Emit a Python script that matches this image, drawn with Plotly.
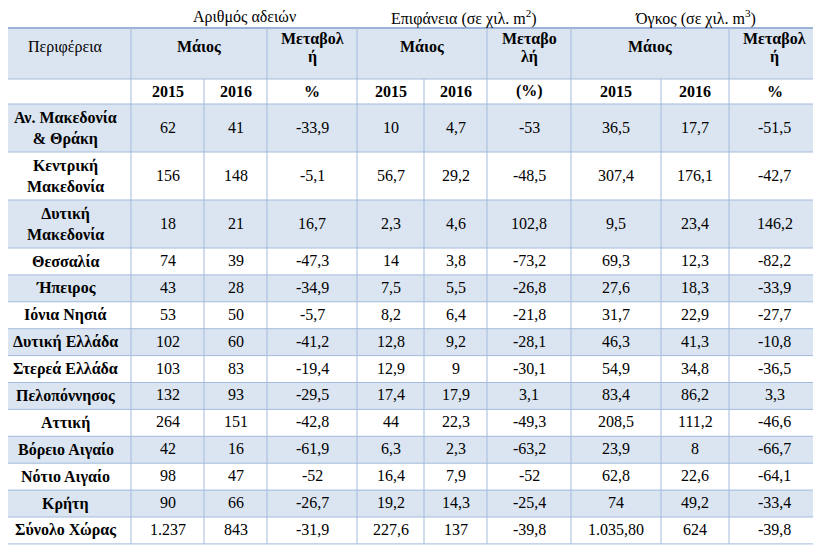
import plotly.graph_objects as go

# ---------------- data ----------------
groups = ["Αριθμός αδειών", "Επιφάνεια (σε χιλ. m<sup>2</sup>)", "Όγκος (σε χιλ. m<sup>3</sup>)"]
period_label = "Μάιος"
change_labels = [["Μεταβολ", "ή"], ["Μεταβο", "λή"], ["Μεταβολ", "ή"]]
years = ["2015", "2016"]
change_units = ["%", "(%)", "%"]

regions = [
    "Αν. Μακεδονία<br>& Θράκη", "Κεντρική<br>Μακεδονία", "Δυτική<br>Μακεδονία",
    "Θεσσαλία", "Ήπειρος", "Ιόνια Νησιά", "Δυτική Ελλάδα", "Στερεά Ελλάδα",
    "Πελοπόννησος", "Αττική", "Βόρειο Αιγαίο", "Νότιο Αιγαίο", "Κρήτη", "Σύνολο Χώρας",
]
permits_2015 = ["62", "156", "18", "74", "43", "53", "102", "103", "132", "264", "42", "98", "90", "1.237"]
permits_2016 = ["41", "148", "21", "39", "28", "50", "60", "83", "93", "151", "16", "47", "66", "843"]
permits_chg = ["-33,9", "-5,1", "16,7", "-47,3", "-34,9", "-5,7", "-41,2", "-19,4", "-29,5", "-42,8", "-61,9", "-52", "-26,7", "-31,9"]
area_2015 = ["10", "56,7", "2,3", "14", "7,5", "8,2", "12,8", "12,9", "17,4", "44", "6,3", "16,4", "19,2", "227,6"]
area_2016 = ["4,7", "29,2", "4,6", "3,8", "5,5", "6,4", "9,2", "9", "17,9", "22,3", "2,3", "7,9", "14,3", "137"]
area_chg = ["-53", "-48,5", "102,8", "-73,2", "-26,8", "-21,8", "-28,1", "-30,1", "3,1", "-49,3", "-63,2", "-52", "-25,4", "-39,8"]
volume_2015 = ["36,5", "307,4", "9,5", "69,3", "27,6", "31,7", "46,3", "54,9", "83,4", "208,5", "23,9", "62,8", "74", "1.035,80"]
volume_2016 = ["17,7", "176,1", "23,4", "12,3", "18,3", "22,9", "41,3", "34,8", "86,2", "111,2", "8", "22,6", "49,2", "624"]
volume_chg = ["-51,5", "-42,7", "146,2", "-82,2", "-33,9", "-27,7", "-10,8", "-36,5", "3,3", "-46,6", "-66,7", "-64,1", "-33,4", "-39,8"]

# ---------------- layout constants ----------------
W, H = 821, 547
OFF = 8  # page body margin compensation
col_edges = [0, 131, 204, 267, 357, 424, 487, 571, 661, 729, 830]
hdr_top, hdr_mid, hdr_bot = 28, 79, 104
double_h, single_h = 48, 26.9
n_double = 3
row_edges = [hdr_bot]
for i in range(len(regions)):
    row_edges.append(row_edges[-1] + (double_h if i < n_double else single_h))

BAND = "#dbe5f1"
GRID = "#a3bbdc"
FONT = "Liberation Serif, Times New Roman, serif"
FS = 16

cols_data = [permits_2015, permits_2016, permits_chg,
             area_2015, area_2016, area_chg,
             volume_2015, volume_2016, volume_chg]

shapes = []
annotations = []
X0, X1 = -10, W + 20


def rect(x0, x1, y0, y1, color):
    shapes.append(dict(type="rect", xref="x", yref="y", x0=x0, x1=x1, y0=y0, y1=y1,
                       fillcolor=color, line=dict(width=0), layer="below"))


def hline(y, width=1, color=GRID):
    shapes.append(dict(type="line", xref="x", yref="y", x0=X0, x1=X1, y0=y, y1=y,
                       line=dict(color=color, width=width)))


def vline(x, y0, y1):
    shapes.append(dict(type="line", xref="x", yref="y", x0=x, x1=x, y0=y0, y1=y1,
                       line=dict(color=GRID, width=1)))


def text(x, y, s, bold=False):
    annotations.append(dict(x=x, y=y, xref="x", yref="y", text=(f"<b>{s}</b>" if bold else s),
                            showarrow=False, xanchor="center", yanchor="middle",
                            font=dict(family=FONT, size=FS, color="black")))


def cc(i):
    right = min(col_edges[i + 1], W - 1)
    return (col_edges[i] + right) / 2


# backgrounds
rect(X0, X1, hdr_top, hdr_mid, BAND)
for i in range(len(regions)):
    if i % 2 == 0:
        rect(X0, X1, row_edges[i], row_edges[i + 1], BAND)

# grid lines
hline(hdr_top, width=2, color="#9bb3d9")
hline(hdr_mid)
for y in row_edges:
    hline(y)
for k in (1, 3, 4, 6, 7, 9):
    vline(col_edges[k], hdr_top, hdr_mid)
for k in range(1, 10):
    vline(col_edges[k], hdr_mid, row_edges[-1])

# group titles
for g in range(3):
    x0 = col_edges[1 + 3 * g]
    x1 = min(col_edges[4 + 3 * g], W - 1)
    text((x0 + x1) / 2, 17, groups[g])

# header row 1
text(cc(0), 47, "Περιφέρεια")
for g in range(3):
    text((col_edges[1 + 3 * g] + col_edges[3 + 3 * g]) / 2, 47, period_label, bold=True)
    text(cc(3 + 3 * g), 39, change_labels[g][0], bold=True)
    text(cc(3 + 3 * g), 57, change_labels[g][1], bold=True)

# header row 2
for g in range(3):
    text(cc(1 + 3 * g), 91, years[0], bold=True)
    text(cc(2 + 3 * g), 91, years[1], bold=True)
    text(cc(3 + 3 * g), 91, change_units[g], bold=True)

# data rows
for i, name in enumerate(regions):
    yc = (row_edges[i] + row_edges[i + 1]) / 2
    text(cc(0), yc, name, bold=True)
    for j, col in enumerate(cols_data):
        text(cc(j + 1), yc - 1, col[i])

fig = go.Figure()
fig.update_layout(
    width=W, height=H,
    margin=dict(l=0, r=0, t=0, b=0),
    paper_bgcolor="white", plot_bgcolor="white",
    xaxis=dict(range=[OFF, W + OFF], visible=False, fixedrange=True),
    yaxis=dict(range=[H + OFF, OFF], visible=False, fixedrange=True),
    shapes=shapes, annotations=annotations, showlegend=False,
)
fig.write_html("out.html")
